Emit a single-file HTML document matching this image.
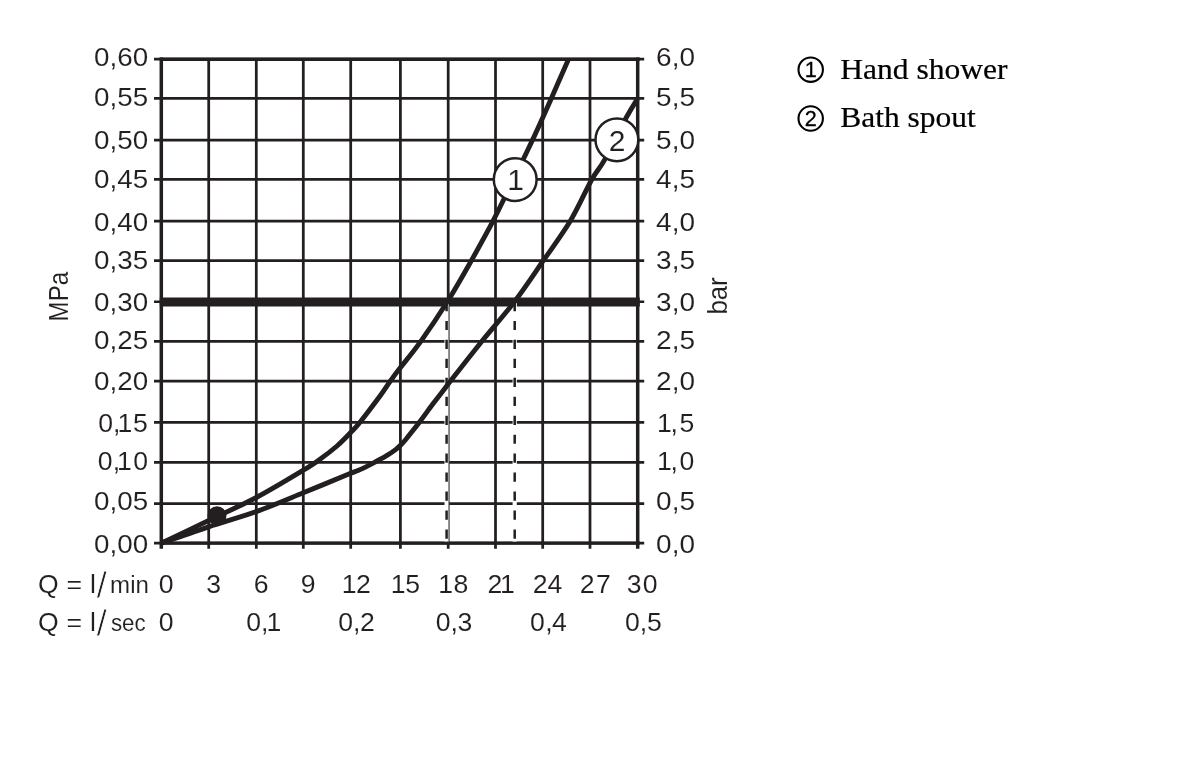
<!DOCTYPE html>
<html lang="en">
<head>
<meta charset="utf-8">
<title>Flow diagram</title>
<style>
html,body{margin:0;padding:0;background:#fff;}
body{width:1200px;height:765px;overflow:hidden;position:relative;}
svg{position:absolute;left:0;top:0;display:block;}
.s{font-family:"Liberation Sans",sans-serif;fill:#231f20;stroke:#fff;stroke-width:0.08px;}
.t{font-family:"Liberation Serif",serif;fill:#000;}
</style>
</head>
<body>
<svg width="1200" height="765" viewBox="0 0 1200 765">
<rect x="0" y="0" width="1200" height="765" fill="#fff"/>
<g stroke="#231f20" fill="none" stroke-linecap="butt">
<line x1="208.7" y1="58" x2="208.7" y2="548.7" stroke-width="2.75"/>
<line x1="256.3" y1="58" x2="256.3" y2="548.7" stroke-width="2.75"/>
<line x1="303.3" y1="58" x2="303.3" y2="548.7" stroke-width="2.75"/>
<line x1="350.7" y1="58" x2="350.7" y2="548.7" stroke-width="2.75"/>
<line x1="400.4" y1="58" x2="400.4" y2="548.7" stroke-width="2.75"/>
<line x1="448.2" y1="58" x2="448.2" y2="548.7" stroke-width="2.75"/>
<line x1="495.5" y1="58" x2="495.5" y2="548.7" stroke-width="2.75"/>
<line x1="542.7" y1="58" x2="542.7" y2="548.7" stroke-width="2.75"/>
<line x1="590.0" y1="58" x2="590.0" y2="548.7" stroke-width="2.75"/>
<line x1="154" y1="543.1" x2="644.2" y2="543.1" stroke-width="2.75"/>
<line x1="154" y1="503.7" x2="644.2" y2="503.7" stroke-width="2.75"/>
<line x1="154" y1="462.3" x2="644.2" y2="462.3" stroke-width="2.75"/>
<line x1="154" y1="422.3" x2="644.2" y2="422.3" stroke-width="2.75"/>
<line x1="154" y1="381.1" x2="644.2" y2="381.1" stroke-width="2.75"/>
<line x1="154" y1="341.4" x2="644.2" y2="341.4" stroke-width="2.75"/>
<line x1="154" y1="260.7" x2="644.2" y2="260.7" stroke-width="2.75"/>
<line x1="154" y1="221.0" x2="644.2" y2="221.0" stroke-width="2.75"/>
<line x1="154" y1="179.3" x2="644.2" y2="179.3" stroke-width="2.75"/>
<line x1="154" y1="140.0" x2="644.2" y2="140.0" stroke-width="2.75"/>
<line x1="154" y1="98.4" x2="644.2" y2="98.4" stroke-width="2.75"/>
<line x1="154" y1="59.2" x2="644.2" y2="59.2" stroke-width="2.75"/>
<line x1="161.3" y1="57.5" x2="161.3" y2="548.7" stroke-width="3.5"/>
<line x1="637.7" y1="57.5" x2="637.7" y2="548.7" stroke-width="3.5"/>
<line x1="159.8" y1="59.2" x2="639.8" y2="59.2" stroke-width="3.6"/>
<line x1="159.8" y1="543.1" x2="639.8" y2="543.1" stroke-width="3.4"/>
<line x1="154" y1="301.8" x2="644.2" y2="301.8" stroke-width="2.4"/>
<line x1="159.8" y1="302.1" x2="639.8" y2="302.1" stroke-width="9"/>
</g>
<line x1="446.6" y1="303" x2="446.6" y2="541.6" stroke="#fff" stroke-width="4.2"/>
<line x1="446.6" y1="303" x2="446.6" y2="541.6" stroke="#231f20" stroke-width="2.5" stroke-dasharray="9.2 9.76" stroke-dashoffset="1.06"/>
<line x1="514.7" y1="303" x2="514.7" y2="541.6" stroke="#fff" stroke-width="4.2"/>
<line x1="514.7" y1="303" x2="514.7" y2="541.6" stroke="#231f20" stroke-width="2.5" stroke-dasharray="9.2 9.76" stroke-dashoffset="1.06"/>
<line x1="448.7" y1="306" x2="448.7" y2="541.6" stroke="#8a8a8a" stroke-width="1"/>
<g stroke="#231f20" fill="none" stroke-width="4.9" stroke-linecap="butt" stroke-linejoin="round">
<path d="M161.3 543.1 C169.2 539.3 192.9 528.1 208.7 520.5 C224.5 512.9 240.5 505.9 256.3 497.5 C272.1 489.1 292.7 476.6 303.3 470.2 C313.9 463.8 314.4 463.2 320.0 459.2 C325.6 455.2 331.9 450.4 337.0 446.0 C342.1 441.6 346.9 436.5 350.7 432.5 C354.5 428.5 355.1 428.3 360.0 422.2 C364.9 416.1 374.9 402.9 380.0 396.0 C385.1 389.1 387.4 385.1 390.5 380.8 C393.6 376.5 393.4 376.6 398.5 370.0 C403.6 363.4 412.7 352.8 420.8 341.4 C428.9 330.0 438.9 315.2 447.3 301.8 C455.7 288.4 463.7 274.2 471.3 260.7 C478.9 247.2 486.2 234.3 493.2 220.7 C500.2 207.1 506.9 192.8 513.5 179.3 C520.0 165.9 526.2 153.5 532.5 140.0 C538.8 126.5 545.3 111.9 551.3 98.4 C557.3 84.9 565.6 65.7 568.5 59.2"/>
<path d="M161.3 543.1 C169.2 540.4 192.9 532.0 208.7 526.8 C224.5 521.5 240.5 517.3 256.3 511.6 C272.1 505.9 287.6 499.2 303.3 492.8 C319.0 486.4 341.2 477.2 350.7 473.3 C360.1 469.4 356.2 471.4 360.0 469.6 C363.8 467.9 369.2 465.1 373.6 462.8 C378.0 460.5 382.5 458.1 386.2 455.9 C389.9 453.7 393.2 451.4 395.6 449.6 C398.0 447.8 399.1 446.6 400.8 444.9 C402.5 443.2 404.1 441.5 406.0 439.2 C407.9 436.9 410.0 434.2 412.3 431.3 C414.6 428.4 416.1 426.5 419.6 421.9 C423.1 417.3 429.2 408.9 433.2 403.6 C437.2 398.3 440.8 393.8 443.7 390.0 C446.6 386.2 444.2 389.2 450.5 381.1 C456.8 373.0 471.1 354.7 481.7 341.5 C492.3 328.3 504.2 315.2 514.4 301.8 C524.6 288.4 533.6 274.7 542.9 261.2 C552.2 247.7 562.2 234.5 570.3 221.0 C578.4 207.5 585.7 190.4 591.4 180.2 C597.1 170.0 598.9 170.0 604.7 159.6 C610.5 149.2 620.8 127.6 626.3 117.5 C631.8 107.4 635.6 101.9 637.5 98.8"/>
</g>
<circle cx="217" cy="515.7" r="9.5" fill="#231f20"/>
<circle cx="515.2" cy="179.6" r="21.4" fill="#fff" stroke="#231f20" stroke-width="2.5"/>
<text class="s" x="515.5" y="190.3" font-size="30" text-anchor="middle">1</text>
<circle cx="616.9" cy="139.8" r="21.4" fill="#fff" stroke="#231f20" stroke-width="2.5"/>
<text class="s" x="617.2" y="150.5" font-size="30" text-anchor="middle">2</text>
<text class="s" x="94.1" y="552.6" font-size="26.6" textLength="54.1" lengthAdjust="spacingAndGlyphs">0,00</text>
<text class="s" x="94.1" y="510.1" font-size="26.6" textLength="54.1" lengthAdjust="spacingAndGlyphs">0,05</text>
<text class="s" x="97.8 112.8 117.1 133.3" y="470.3" font-size="26.6">0,10</text>
<text class="s" x="98.3 113.0 117.4 133.1" y="431.6" font-size="26.6">0,15</text>
<text class="s" x="94.1" y="390.4" font-size="26.6" textLength="54.1" lengthAdjust="spacingAndGlyphs">0,20</text>
<text class="s" x="94.1" y="349.3" font-size="26.6" textLength="54.1" lengthAdjust="spacingAndGlyphs">0,25</text>
<text class="s" x="94.1" y="311.2" font-size="26.6" textLength="54.1" lengthAdjust="spacingAndGlyphs">0,30</text>
<text class="s" x="94.1" y="268.5" font-size="26.6" textLength="54.1" lengthAdjust="spacingAndGlyphs">0,35</text>
<text class="s" x="94.1" y="231.0" font-size="26.6" textLength="54.1" lengthAdjust="spacingAndGlyphs">0,40</text>
<text class="s" x="94.1" y="187.5" font-size="26.6" textLength="54.1" lengthAdjust="spacingAndGlyphs">0,45</text>
<text class="s" x="94.1" y="149.2" font-size="26.6" textLength="54.1" lengthAdjust="spacingAndGlyphs">0,50</text>
<text class="s" x="94.1" y="106.0" font-size="26.6" textLength="54.1" lengthAdjust="spacingAndGlyphs">0,55</text>
<text class="s" x="94.1" y="65.7" font-size="26.6" textLength="54.1" lengthAdjust="spacingAndGlyphs">0,60</text>
<text class="s" x="656.1" y="552.6" font-size="26.6" textLength="38.9" lengthAdjust="spacingAndGlyphs">0,0</text>
<text class="s" x="656.1" y="510.1" font-size="26.6" textLength="38.9" lengthAdjust="spacingAndGlyphs">0,5</text>
<text class="s" x="656.9 670.4 679.5" y="470.3" font-size="26.6">1,0</text>
<text class="s" x="656.9 670.4 679.5" y="431.6" font-size="26.6">1,5</text>
<text class="s" x="656.1" y="390.4" font-size="26.6" textLength="38.9" lengthAdjust="spacingAndGlyphs">2,0</text>
<text class="s" x="656.1" y="349.3" font-size="26.6" textLength="38.9" lengthAdjust="spacingAndGlyphs">2,5</text>
<text class="s" x="656.1" y="311.2" font-size="26.6" textLength="38.9" lengthAdjust="spacingAndGlyphs">3,0</text>
<text class="s" x="656.1" y="268.5" font-size="26.6" textLength="38.9" lengthAdjust="spacingAndGlyphs">3,5</text>
<text class="s" x="656.1" y="231.0" font-size="26.6" textLength="38.9" lengthAdjust="spacingAndGlyphs">4,0</text>
<text class="s" x="656.1" y="187.5" font-size="26.6" textLength="38.9" lengthAdjust="spacingAndGlyphs">4,5</text>
<text class="s" x="656.1" y="149.2" font-size="26.6" textLength="38.9" lengthAdjust="spacingAndGlyphs">5,0</text>
<text class="s" x="656.1" y="106.0" font-size="26.6" textLength="38.9" lengthAdjust="spacingAndGlyphs">5,5</text>
<text class="s" x="656.1" y="65.7" font-size="26.6" textLength="38.9" lengthAdjust="spacingAndGlyphs">6,0</text>
<text class="s" transform="translate(68.2 321.4) rotate(-90)" font-size="27.5" textLength="49.6" lengthAdjust="spacingAndGlyphs">MPa</text>
<text class="s" transform="translate(726.5 314.6) rotate(-90)" font-size="27.6" textLength="37.3" lengthAdjust="spacingAndGlyphs">bar</text>
<text class="s" y="593.2" font-size="26.6"><tspan x="37.9 58 66.6 82 89.9">Q = l</tspan><tspan x="96.6" y="598.2" font-size="37.5" style="stroke-width:0.9px">/</tspan><tspan x="110.1" y="593.2" font-size="24.2" style="stroke-width:0.1px" textLength="38.8" lengthAdjust="spacingAndGlyphs">min</tspan></text>
<text class="s" y="631.0" font-size="26.6"><tspan x="37.9 58 66.6 82 89.9">Q = l</tspan><tspan x="96.6" y="636.0" font-size="37.5" style="stroke-width:0.9px">/</tspan><tspan x="110.9" y="631.0" font-size="24.2" style="stroke-width:0.1px" textLength="34.7" lengthAdjust="spacingAndGlyphs">sec</tspan></text>
<text class="s" x="158.7" y="593.2" font-size="26.6">0</text>
<text class="s" x="206.2" y="593.2" font-size="26.6">3</text>
<text class="s" x="253.7" y="593.2" font-size="26.6">6</text>
<text class="s" x="300.8" y="593.2" font-size="26.6">9</text>
<text class="s" x="341.8 356.1" y="593.2" font-size="26.6">12</text>
<text class="s" x="390.8 405.2" y="593.2" font-size="26.6">15</text>
<text class="s" x="438.3 453.4" y="593.2" font-size="26.6">18</text>
<text class="s" x="487.4 500.1" y="593.2" font-size="26.6">21</text>
<text class="s" x="532.8 547.5" y="593.2" font-size="26.6">24</text>
<text class="s" x="579.8 595.9" y="593.2" font-size="26.6">27</text>
<text class="s" x="626.8 642.7" y="593.2" font-size="26.6">30</text>
<text class="s" x="158.7" y="631.0" font-size="26.6">0</text>
<text class="s" x="246.3 260.9 266.6" y="631.0" font-size="26.6">0,1</text>
<text class="s" x="338.3 353.0 360.1" y="631.0" font-size="26.6">0,2</text>
<text class="s" x="435.7 450.5 457.5" y="631.0" font-size="26.6">0,3</text>
<text class="s" x="530.0 545.2 552.0" y="631.0" font-size="26.6">0,4</text>
<text class="s" x="625.0 639.7 647.0" y="631.0" font-size="26.6">0,5</text>
<circle cx="810.7" cy="69.7" r="12.2" fill="none" stroke="#000" stroke-width="2.1"/>
<text x="810.7" y="77.4" font-size="21.6" text-anchor="middle" style="font-family:'Liberation Sans',sans-serif" fill="#000" stroke="#000" stroke-width="0.3">1</text>
<text class="t" x="840.3" y="78.8" font-size="30" stroke="#000" stroke-width="0.22" textLength="167.3" lengthAdjust="spacingAndGlyphs">Hand shower</text>
<circle cx="810.7" cy="118.5" r="12.2" fill="none" stroke="#000" stroke-width="2.1"/>
<text x="810.7" y="126.2" font-size="21.6" text-anchor="middle" style="font-family:'Liberation Sans',sans-serif" fill="#000" stroke="#000" stroke-width="0.3">2</text>
<text class="t" x="840.3" y="127.2" font-size="30" stroke="#000" stroke-width="0.22" textLength="135.5" lengthAdjust="spacingAndGlyphs">Bath spout</text>
</svg>
</body>
</html>
